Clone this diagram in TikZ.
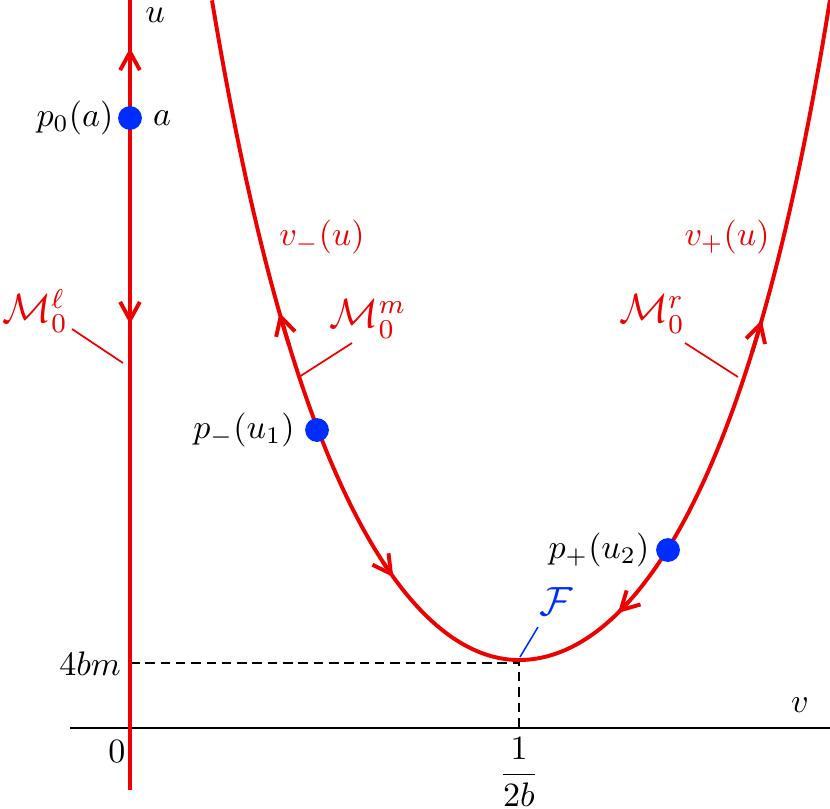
\documentclass[tikz,border=0pt]{standalone}
\usetikzlibrary{arrows.meta}
\definecolor{cred}{RGB}{236,0,0}
\definecolor{dotblue}{RGB}{0,45,255}
\begin{document}
\begin{tikzpicture}[x=0.294pt,y=-0.294pt,
  redline/.style={cred,line width=1.15pt},
  tip/.style={redline,-{Straight Barb[length=5.3pt,width=5.8pt,line width=1.15pt]}},
  tipstart/.style={redline,{Straight Barb[length=5.3pt,width=5.8pt,line width=1.15pt]}-},
  lead/.style={cred,line width=0.5pt},
  dot/.style={circle,fill=dotblue,inner sep=0pt,minimum size=7pt},
  lbl/.style={inner sep=1pt},
  rlbl/.style={inner sep=1pt,text=cred},
  mlbl/.style={inner sep=0pt,text=cred,font=\large}]
\useasboundingbox (0,0) rectangle (830,808);
% left and right branch formulas
\def\lx#1{519-100*#1}
\def\ly#1{660-50*#1*#1/(1-0.030303*#1*#1)}
\def\rx#1{519+100*#1}
\def\ry#1{660-46.51*#1*#1/(1-0.032964*#1*#1)}
% coordinates
\coordinate (top) at (130,0);
\coordinate (bot) at (130,790);
\coordinate (axL) at (70,728);
\coordinate (axR) at (830,728);
\coordinate (hb) at (130,663);
\coordinate (vx) at (519,663);
\coordinate (vxa) at (519,728);
% dashed guide lines
\draw[dashed,dash pattern=on 2.8pt off 1.7pt,line width=0.5pt] (hb) -- (vx) -- (vxa);
% axis
\draw[line width=0.6pt] (axL) -- (axR);
% vertical manifold
\draw[redline] (top) -- (bot);
\coordinate (a1s) at (130,72);
\coordinate (a1e) at (130,48);
\coordinate (a2s) at (130,300);
\coordinate (a2e) at (130,324);
\draw[tip] (a1s) -- (a1e);
\draw[tip] (a2s) -- (a2e);
% curve
\draw[redline] plot[domain=3.07:0,samples=90] ({\lx{\x}},{\ly{\x}})
  -- plot[domain=0:3.11,samples=90] ({\rx{\x}},{\ry{\x}});
% arrows on curve
\draw[tip] plot[domain=2.30:2.395,samples=6] ({\lx{\x}},{\ly{\x}});
\draw[tipstart] plot[domain=1.257:1.36,samples=6] ({\lx{\x}},{\ly{\x}});
\draw[tipstart] plot[domain=0.989:1.09,samples=6] ({\rx{\x}},{\ry{\x}});
\draw[tip] plot[domain=2.33:2.427,samples=6] ({\rx{\x}},{\ry{\x}});
% leader lines
\coordinate (l1a) at (72,329);  \coordinate (l1b) at (123,363);
\coordinate (l2a) at (352,343); \coordinate (l2b) at (299,377);
\coordinate (l3a) at (685,343); \coordinate (l3b) at (738,377);
\coordinate (l4a) at (538,627); \coordinate (l4b) at (520,657);
\draw[lead] (l1a) -- (l1b);
\draw[lead] (l2a) -- (l2b);
\draw[lead] (l3a) -- (l3b);
\draw[dotblue,line width=0.45pt] (l4a) -- (l4b);
% dots
\node[dot] (d0) at (130,118) {};
\node[dot] (dm) at (317,430) {};
\node[dot] (dp) at (668,550) {};
% labels
\node[lbl] (u) at (155,15) {$u$};
\node[lbl] (p0) at (75,118) {$p_0(a)$};
\node[lbl] (a) at (162,118) {$a$};
\node[mlbl] (Ml) at (35,311) {$\mathcal{M}_0^\ell$};
\node[rlbl] (vm) at (322,237) {$v_-(u)$};
\node[mlbl] (Mm) at (368,319) {$\mathcal{M}_0^m$};
\node[lbl] (pm) at (244,430) {$p_-(u_1)$};
\node[rlbl] (vp) at (727,237) {$v_+(u)$};
\node[mlbl] (Mr) at (652,314) {$\mathcal{M}_0^r$};
\node[lbl] (pp) at (599,550) {$p_+(u_2)$};
\node[lbl,text=dotblue,font=\large] (F) at (556,602) {$\mathcal{F}$};
\node[lbl] (fbm) at (90,664) {$4bm$};
\node[lbl] (zero) at (117,752) {$0$};
\node[lbl] (v) at (800,705) {$v$};
\node[inner sep=0pt] (frac) at (519,772) {$\displaystyle\frac{1}{2b}$};
\end{tikzpicture}
\end{document}
